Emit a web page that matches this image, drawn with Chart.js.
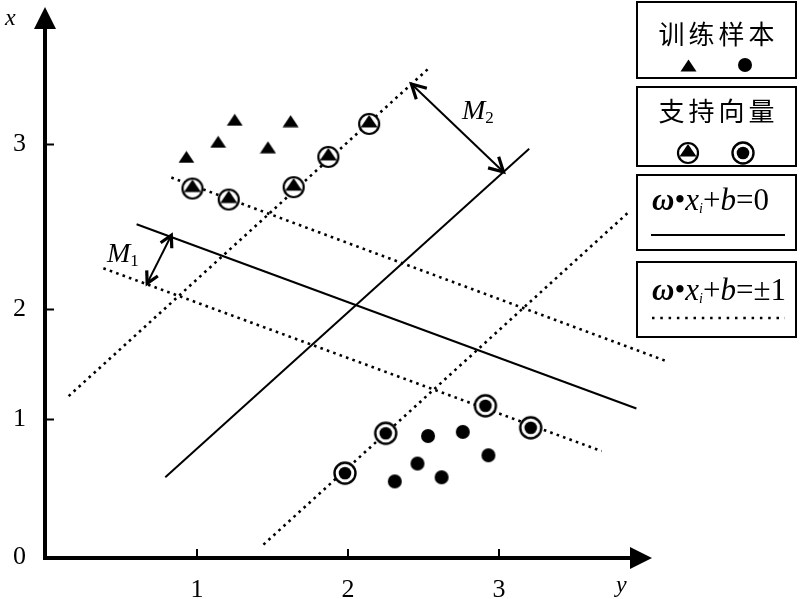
<!DOCTYPE html>
<html>
<head>
<meta charset="utf-8">
<script src="https://cdn.jsdelivr.net/npm/chart.js@4.4.0/dist/chart.umd.min.js"></script>
<style>
  body { margin: 0; background: #fff; }
  #wrap { position: relative; width: 800px; height: 599px; background: #fff; }
  canvas#c { position: absolute; left: 0; top: 0; }
  .box { position: absolute; left: 636px; width: 161px; border: 2px solid #000; box-sizing: border-box; }
  .cn { position: absolute; left: 0; right: 0; text-align: center; font: 26px "Noto Sans CJK SC"; letter-spacing: 4px; padding-left: 4px; line-height: 34px; }
  .f { position: absolute; left: 14px; font: 31px "Liberation Serif"; line-height: 34px; white-space: nowrap; }
  .f sub { font-size: 14px; vertical-align: -3px; }
  .lbl { position: absolute; font: italic 24px "Liberation Serif"; line-height: 24px; }
  .m { position: absolute; font: italic 28px "Liberation Serif"; line-height: 28px; white-space: nowrap; }
  .m sub { font-style: normal; font-size: 17px; vertical-align: -4px; }
</style>
</head>
<body>
<div id="wrap">
  <canvas id="c" width="800" height="599"></canvas>

  <div class="box" style="top:1px;height:78px"><div class="cn" style="top:13px">训练样本</div></div>
  <div class="box" style="top:86px;height:81px"><div class="cn" style="top:5px">支持向量</div></div>
  <div class="box" style="top:174px;height:77px"><div class="f" style="top:7px"><b><i>ω</i></b>•<i>x</i><sub><i>i</i></sub>+<i>b</i>=0</div></div>
  <div class="box" style="top:261px;height:77px"><div class="f" style="top:10px"><b><i>ω</i></b>•<i>x</i><sub><i>i</i></sub>+<i>b</i>=±1</div></div>

  <div class="lbl" style="left:5px;top:5px">x</div>
  <div class="lbl" style="left:616px;top:572px">y</div>
  <div class="m" style="left:107px;top:239px">M<sub>1</sub></div>
  <div class="m" style="left:462px;top:96px">M<sub>2</sub></div>
</div>

<script>
// data (x along the horizontal axis, y up the vertical one)

const xTicks = [1, 2, 3];
const xTickLabels = ["1", "2", "3"];
const yTickPos = [0, 1, 1.8, 3];
const yTickLabels = ["0", "1", "2", "3"];

const trainTriangles = [[0.93, 2.91], [1.14, 3.02], [1.25, 3.18], [1.47, 2.98], [1.62, 3.17]];
const supportTriangles = [[0.97, 2.68], [1.21, 2.6], [1.64, 2.69], [1.87, 2.91], [2.14, 3.15]];
const trainCircles = [[2.53, 0.88], [2.76, 0.91], [2.46, 0.68], [2.93, 0.74], [2.31, 0.55], [2.62, 0.58]];
const supportCircles = [[1.98, 0.61], [2.25, 0.9], [2.91, 1.1], [3.21, 0.94]];

// solid separating lines and dotted margin lines, [start, end]
const hyperplanes = [
  [[0.6, 2.42], [3.91, 1.08]],
  [[0.79, 0.58], [3.2, 2.97]],
];
const marginLines = [
  [[0.83, 2.76], [4.12, 1.42]],
  [[0.38, 2.1], [3.68, 0.77]],
  [[0.15, 1.17], [2.53, 3.55]],
  [[1.44, 0.09], [3.85, 2.5]],
];
// double arrows M1, M2
const marginArrows = [
  [[0.83, 2.34], [0.67, 1.99]],
  [[2.42, 3.44], [3.03, 2.8]],
];

// --------------marker images---------------------//
function makeCanvas(w, h, draw) {
  const c = document.createElement("canvas");
  c.width = w;
  c.height = h;
  const g = c.getContext("2d");
  g.fillStyle = "#000";
  g.strokeStyle = "#000";
  draw(g);
  return c;
}

const triImg = makeCanvas(17, 13, (g) => {
  g.beginPath();
  g.moveTo(8.5, 0.5);
  g.lineTo(16.5, 12.5);
  g.lineTo(0.5, 12.5);
  g.closePath();
  g.fill();
});

const supTriImg = makeCanvas(26, 26, (g) => {
  g.fillStyle = "#fff";
  g.beginPath();
  g.arc(13, 13, 10, 0, Math.PI * 2);
  g.fill();
  g.lineWidth = 2.2;
  g.stroke();
  g.fillStyle = "#000";
  g.beginPath();
  g.moveTo(13, 4);
  g.lineTo(21.5, 16.5);
  g.lineTo(4.5, 16.5);
  g.closePath();
  g.fill();
});

const dotImg = makeCanvas(16, 16, (g) => {
  g.beginPath();
  g.arc(8, 8, 7, 0, Math.PI * 2);
  g.fill();
});

const supDotImg = makeCanvas(26, 26, (g) => {
  g.fillStyle = "#fff";
  g.beginPath();
  g.arc(13, 13, 10.5, 0, Math.PI * 2);
  g.fill();
  g.lineWidth = 2.4;
  g.stroke();
  g.fillStyle = "#000";
  g.beginPath();
  g.arc(13, 13, 6.3, 0, Math.PI * 2);
  g.fill();
});

// --------------datasets---------------------//
const toXY = (arr) => arr.map((p) => ({ x: p[0], y: p[1] }));

function pointSet(arr, img) {
  return { data: toXY(arr), pointStyle: img, pointRadius: 8, pointHoverRadius: 8, showLine: false };
}

function lineSet(seg, dotted) {
  return {
    data: toXY(seg),
    showLine: true,
    pointRadius: 0,
    borderColor: "#000",
    borderWidth: dotted ? 2.6 : 2,
    borderDash: dotted ? [2.6, 4.2] : [],
    borderCapStyle: "butt",
    clip: false,
  };
}

const datasets = [
  pointSet(supportTriangles, supTriImg),
  pointSet(supportCircles, supDotImg),
  pointSet(trainTriangles, triImg),
  pointSet(trainCircles, dotImg),
  ...hyperplanes.map((s) => lineSet(s, false)),
  ...marginLines.map((s) => lineSet(s, true)),
];

// --------------axes, arrows, legend marks---------------------//
function arrowHead(ctx, fx, fy, tx, ty, len) {
  const a = Math.atan2(ty - fy, tx - fx);
  ctx.beginPath();
  ctx.moveTo(tx - len * Math.cos(a - 0.5), ty - len * Math.sin(a - 0.5));
  ctx.lineTo(tx, ty);
  ctx.lineTo(tx - len * Math.cos(a + 0.5), ty - len * Math.sin(a + 0.5));
  ctx.stroke();
}

const extras = {
  id: "extras",
  beforeDatasetsDraw(chart) {
    const { ctx } = chart;
    const x = chart.scales.x;
    const y = chart.scales.y;
    const x0 = x.getPixelForValue(0);
    const y0 = y.getPixelForValue(0);
    const xEnd = x.getPixelForValue(x.max);
    const yEnd = y.getPixelForValue(y.max);

    ctx.save();
    ctx.fillStyle = "#000";
    ctx.strokeStyle = "#000";
    ctx.lineWidth = 4;
    ctx.beginPath();
    ctx.moveTo(x0 - 1, y0 + 2);
    ctx.lineTo(x0 - 1, yEnd + 18);
    ctx.moveTo(x0 - 3, y0 + 1);
    ctx.lineTo(xEnd - 18, y0 + 1);
    ctx.stroke();

    ctx.beginPath();
    ctx.moveTo(x0 - 1, yEnd - 2);
    ctx.lineTo(x0 - 12, yEnd + 20);
    ctx.lineTo(x0 + 10, yEnd + 20);
    ctx.closePath();
    ctx.moveTo(xEnd + 2, y0 + 1);
    ctx.lineTo(xEnd - 20, y0 - 10);
    ctx.lineTo(xEnd - 20, y0 + 12);
    ctx.closePath();
    ctx.fill();

    ctx.lineWidth = 2;
    ctx.beginPath();
    xTicks.forEach((v) => {
      const p = x.getPixelForValue(v);
      ctx.moveTo(p, y0);
      ctx.lineTo(p, y0 - 8);
    });
    yTickPos.forEach((v) => {
      if (v === 0) return;
      const p = y.getPixelForValue(v);
      ctx.moveTo(x0, p);
      ctx.lineTo(x0 + 8, p);
    });
    ctx.stroke();

    // margin arrows
    marginArrows.forEach((a, i) => {
      const ax = x.getPixelForValue(a[0][0]);
      const ay = y.getPixelForValue(a[0][1]);
      const bx = x.getPixelForValue(a[1][0]);
      const by = y.getPixelForValue(a[1][1]);
      const len = i === 0 ? 13 : 16;
      ctx.lineWidth = 2;
      ctx.beginPath();
      ctx.moveTo(ax, ay);
      ctx.lineTo(bx, by);
      ctx.stroke();
      ctx.lineWidth = 3.2;
      arrowHead(ctx, ax, ay, bx, by, len);
      arrowHead(ctx, bx, by, ax, ay, len);
    });
    ctx.restore();
  },
  afterDraw(chart) {
    const { ctx } = chart;
    ctx.save();
    ctx.drawImage(triImg, 688 - 8, 65 - 6);
    ctx.drawImage(dotImg, 745 - 8, 65 - 8);
    ctx.drawImage(supTriImg, 688 - 13, 153 - 13);
    ctx.drawImage(supDotImg, 743 - 13, 153 - 13);
    ctx.strokeStyle = "#000";
    ctx.lineWidth = 2;
    ctx.beginPath();
    ctx.moveTo(651, 235);
    ctx.lineTo(785, 235);
    ctx.stroke();
    ctx.lineWidth = 2.5;
    ctx.setLineDash([2.5, 5.8]);
    ctx.beginPath();
    ctx.moveTo(652, 318);
    ctx.lineTo(785, 318);
    ctx.stroke();
    ctx.restore();
  },
};

const tickFont = { family: "Liberation Serif", size: 26 };

let chart = new Chart(document.getElementById("c").getContext("2d"), {
  type: "scatter",
  data: { datasets: datasets },
  options: {
    responsive: false,
    animation: false,
    events: [],
    layout: { padding: { top: 3, right: 150, left: 0, bottom: 0 } },
    plugins: { legend: { display: false }, tooltip: { enabled: false } },
    scales: {
      x: {
        type: "linear",
        min: 0,
        max: 4,
        afterFit: (s) => {
          s.height = 42;
          s.paddingLeft = 0;
          s.paddingRight = 0;
        },
        afterBuildTicks: (s) => {
          s.ticks = xTicks.map((v) => ({ value: v }));
        },
        grid: { display: false, drawTicks: false },
        border: { display: false },
        ticks: {
          font: tickFont,
          color: "#000",
          padding: 18,
          maxRotation: 0,
          callback: (v, i) => xTickLabels[i],
        },
      },
      y: {
        type: "linear",
        min: 0,
        max: 3.986,
        afterFit: (s) => {
          s.width = 46;
          s.paddingTop = 0;
          s.paddingBottom = 0;
        },
        afterBuildTicks: (s) => {
          s.ticks = yTickPos.map((v) => ({ value: v }));
        },
        grid: { display: false, drawTicks: false },
        border: { display: false },
        ticks: {
          font: tickFont,
          color: "#000",
          padding: 20,
          callback: (v, i) => yTickLabels[i],
        },
      },
    },
  },
  plugins: [extras],
});
</script>
</body>
</html>
